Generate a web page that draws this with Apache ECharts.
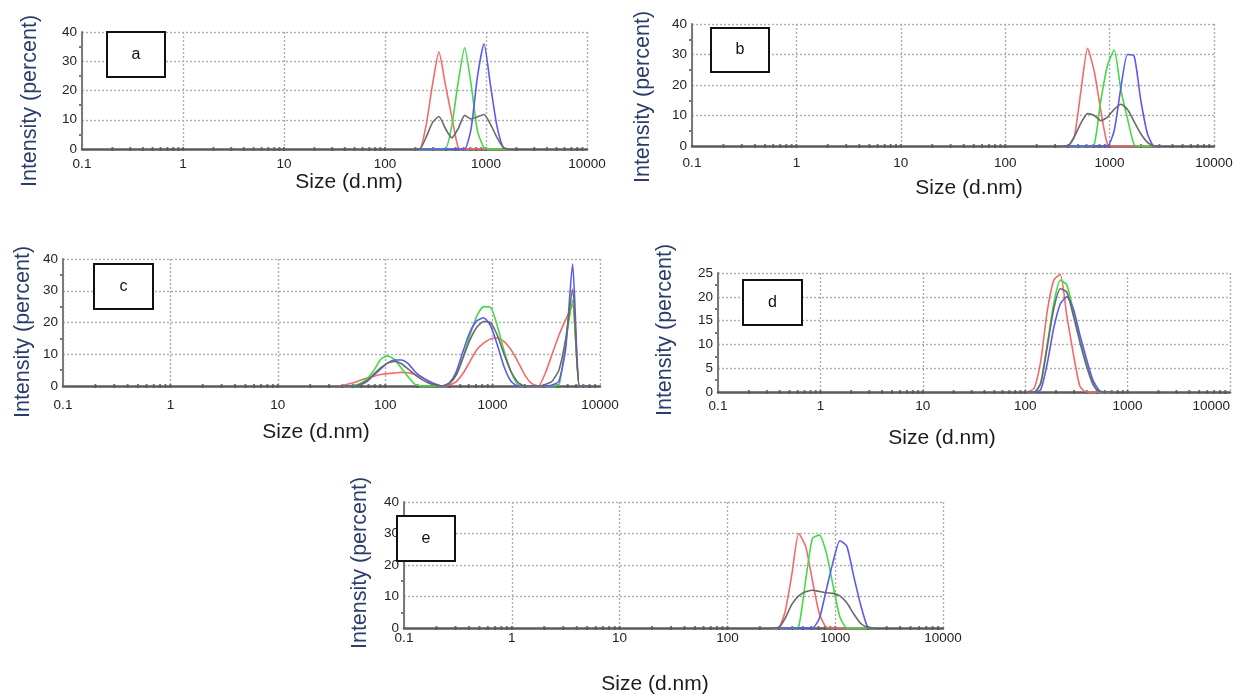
<!DOCTYPE html>
<html>
<head>
<meta charset="utf-8">
<script src="https://cdn.jsdelivr.net/npm/echarts@6/dist/echarts.min.js"></script>
<style>
  html, body { margin: 0; padding: 0; background: #ffffff; }
  #chart { width: 1239px; height: 694px; }
</style>
</head>
<body>
<div id="chart"></div>
<script>
// Size distributions by intensity: size bins (d.nm) and intensity (%) per run.

// Panel a
const binsA  = [190.1, 220.2, 255, 295.3, 342, 396.1, 458.7, 531.2, 615.1, 712.4, 825, 955.4, 1106, 1281, 1484, 1718];
const redA   = [0, 0, 8, 22, 33.2, 22, 11, 0.5, 0, 0, 0, 0, 0, 0, 0, 0];
const greenA = [0, 0, 0, 0, 0, 0, 8, 23, 34.6, 22, 6, 0.5, 0, 0, 0, 0];
const blueA  = [0, 0, 0, 0, 0, 0, 0, 0, 0, 7, 25, 36, 22, 8, 0.5, 0];
const grayA  = [0, 0, 4, 9, 11.1, 7, 3.8, 7, 11.5, 10.3, 11, 11.8, 8.5, 4, 0.5, 0];

// Panel b
const binsB  = [342, 396.1, 458.7, 531.2, 615.1, 712.4, 825, 955.4, 1106, 1281, 1484, 1718, 1990, 2305, 2669, 3091];
const redB   = [0, 0, 3, 18, 32, 24.5, 11.5, 0.5, 0, 0, 0, 0, 0, 0, 0, 0];
const greenB = [0, 0, 0, 0, 0, 0.5, 15, 26.5, 31.5, 18.5, 9, 0.5, 0, 0, 0, 0];
const blueB  = [0, 0, 0, 0, 0, 0, 0, 0, 5, 19, 30, 29.5, 15, 4, 0, 0];
const grayB  = [0, 0, 3, 7.5, 10.6, 10, 8.3, 9.5, 12, 13.7, 12, 8, 4, 1.2, 0, 0];

// Panel c
const binsC  = [37.84, 43.82, 50.75, 58.77, 68.06, 78.82, 91.28, 105.7, 122.4, 141.8, 164.2, 190.1, 220.2, 255, 295.3, 342,
                396.1, 458.7, 531.2, 615.1, 712.4, 825, 955.4, 1106, 1281, 1484, 1718, 1990, 2305, 2669, 3091, 3580,
                4145, 4801, 5560, 6439, 7456];
const redC   = [0, 0.5, 1, 1.8, 2.5, 3.1, 3.6, 3.9, 4.1, 4.3, 4.2, 3.6, 2.7, 1.6, 0.6, 0,
                0.3, 1.4, 4, 7.7, 11.4, 13.5, 14.8, 15.1, 14, 11.4, 7.7, 3.5, 0.8, 0, 4, 10,
                16, 21, 25.5, 0, 0];
const greenC = [0, 0, 0.2, 0.8, 2.4, 5, 8.5, 9.5, 8.3, 5.6, 2.8, 0.5, 0, 0, 0, 0,
                0.8, 3.5, 9, 16, 22, 25, 24.8, 19, 11, 4.5, 0.5, 0, 0, 0, 0, 0,
                0.3, 14, 27, 0, 0];
const blueC  = [0, 0, 0, 0.5, 1.5, 3.5, 5.5, 7.3, 8.2, 8.2, 7, 4.5, 2.8, 1.4, 0.5, 0,
                1, 4.5, 11, 17, 20.5, 21.5, 19, 13, 6, 1.5, 0, 0, 0, 0, 0, 0.3,
                1.5, 12, 38.5, 0, 0];
const grayC  = [0, 0, 0, 0.5, 1.8, 3.8, 5.8, 7.2, 7.7, 7, 5.3, 3.5, 2, 0.9, 0.3, 0,
                0.8, 3.5, 9, 14.5, 18.5, 20.3, 20, 16, 10, 4.5, 1.2, 0, 0, 0, 0.5, 1.5,
                5, 15, 30.5, 0, 0];

// Panel d
const binsD  = [105.7, 122.4, 141.8, 164.2, 190.1, 220.2, 255, 295.3, 342, 396.1, 458.7, 531.2, 615.1, 712.4];
const redD   = [0, 0.8, 6.5, 17, 23.5, 24.7, 16, 8, 1.2, 0, 0, 0, 0, 0];
const greenD = [0, 0, 2, 10, 18.6, 23.5, 22.5, 17, 11, 6, 1.8, 0, 0, 0];
const blueD  = [0, 0, 0.5, 6, 13.5, 18.5, 20, 17.5, 12, 7, 2.5, 0.3, 0, 0];
const grayD  = [0, 0, 1.8, 9.5, 17.5, 21.7, 21, 16, 10.5, 5.5, 1.6, 0, 0, 0];

// Panel e
const binsE  = [255, 295.3, 342, 396.1, 458.7, 531.2, 615.1, 712.4, 825, 955.4, 1106, 1281, 1484, 1718, 1990, 2305];
const redE   = [0, 0, 5, 17, 30, 26, 15, 4.5, 0.3, 0, 0, 0, 0, 0, 0, 0];
const greenE = [0, 0, 0, 0, 0.5, 15, 28.5, 29.5, 24, 13.5, 3.5, 0, 0, 0, 0, 0];
const blueE  = [0, 0, 0, 0, 0, 0, 0, 3, 12, 21, 27.7, 26, 16.5, 7.5, 0.5, 0];
const grayE  = [0, 0, 3, 7.5, 10.2, 11.5, 12, 11.6, 11.2, 11, 10.2, 8, 4.5, 1.5, 0.2, 0];

// Axis text
const xTickLabels = ['0.1', '1', '10', '100', '1000', '10000'];
const minorTickSizes = [0.2, 0.3, 0.4, 0.5, 0.6, 0.7, 0.8, 0.9, 1, 2, 3, 4, 5, 6, 7, 8, 9, 10,
                        20, 30, 40, 50, 60, 70, 80, 90, 100, 200, 300, 400, 500, 600, 700, 800, 900, 1000,
                        2000, 3000, 4000, 5000, 6000, 7000, 8000, 9000];
const xTitle = 'Size (d.nm)';
const yTitle = 'Intensity (percent)';

const FONT = "'Liberation Sans', Arial, sans-serif";
const lineColors = ['#f46a6a', '#46d946', '#5a5af2', '#6a6a6a'];

// Layout of the five panels
const panels = [
  { letter: 'a', grid: { left: 82, top: 32, width: 505, height: 117 }, yMax: 40, yStep: 10,
    bins: binsA, runs: [redA, greenA, blueA, grayA], xMargin: 8, alignMax: 'center',
    box: [107, 32, 58, 45], yTitlePos: [30, 101], xTitlePos: [349, 182] },
  { letter: 'b', grid: { left: 692, top: 24, width: 522, height: 122 }, yMax: 40, yStep: 10,
    bins: binsB, runs: [redB, greenB, blueB, grayB], xMargin: 10, alignMax: 'center',
    box: [711, 28, 58, 44], yTitlePos: [643, 97], xTitlePos: [969, 188] },
  { letter: 'c', grid: { left: 63, top: 259, width: 537, height: 127 }, yMax: 40, yStep: 10,
    bins: binsC, runs: [redC, greenC, blueC, grayC], xMargin: 12, alignMax: 'center',
    box: [94, 264, 59, 45], yTitlePos: [23, 332], xTitlePos: [316, 432] },
  { letter: 'd', grid: { left: 718, top: 273, width: 512, height: 119 }, yMax: 25, yStep: 5,
    bins: binsD, runs: [redD, greenD, blueD, grayD], xMargin: 7, alignMax: 'right',
    box: [743, 280, 59, 45], yTitlePos: [665, 330], xTitlePos: [942, 438] },
  { letter: 'e', grid: { left: 404, top: 502, width: 539, height: 126 }, yMax: 40, yStep: 10,
    bins: binsE, runs: [redE, greenE, blueE, grayE], xMargin: 3, alignMax: 'center',
    box: [397, 516, 58, 45], yTitlePos: [360, 563], xTitlePos: [655, 684] }
];

const gridLine = { show: true, lineStyle: { color: '#adadad', type: [2, 2], width: 1.4 } };

const grids = [], xAxes = [], yAxes = [], series = [], graphics = [];

panels.forEach((p, i) => {
  grids.push(Object.assign({ containLabel: false }, p.grid));

  xAxes.push({
    type: 'log', logBase: 10, gridIndex: i, min: 0.1, max: 10000, splitNumber: 5,
    axisLine: { show: true, onZero: false, lineStyle: { color: '#5c5c5c', width: 2.5 } },
    axisTick: { show: false },
    axisLabel: {
      margin: p.xMargin, fontSize: 13.5, color: '#222', fontFamily: FONT,
      alignMaxLabel: p.alignMax,
      formatter: v => xTickLabels[Math.round(Math.log10(v)) + 1]
    },
    splitLine: gridLine
  });

  yAxes.push({
    type: 'value', gridIndex: i, min: 0, max: p.yMax, interval: p.yStep,
    axisLine: { show: true, lineStyle: { color: '#7a7a7a', width: 2 } },
    axisTick: { show: false },
    minorTick: { show: true, splitNumber: 2, length: 3, lineStyle: { color: '#777', width: 2 } },
    axisLabel: { margin: 5, fontSize: 13.5, color: '#222', fontFamily: FONT },
    splitLine: gridLine
  });

  // small marks along the size axis at 2..9 of each decade
  series.push({
    type: 'scatter', xAxisIndex: i, yAxisIndex: i, silent: true, clip: false, z: 2,
    symbol: 'rect', symbolSize: [2, 4], itemStyle: { color: '#555' },
    data: minorTickSizes.map(v => [v, 0])
  });

  p.runs.forEach((vals, k) => {
    series.push({
      type: 'line', xAxisIndex: i, yAxisIndex: i, silent: true, clip: false, z: 3 + k,
      symbol: 'none', smooth: 0.2,
      lineStyle: { color: lineColors[k], width: 1.6 },
      itemStyle: { color: lineColors[k] },
      data: p.bins.map((s, j) => [s, vals[j]])
    });
  });

  // panel letter box
  const [bx, by, bw, bh] = p.box;
  graphics.push({
    type: 'rect', z: 100, shape: { x: bx, y: by, width: bw, height: bh },
    style: { fill: '#fff', stroke: '#111', lineWidth: 2 }
  });
  graphics.push({
    type: 'text', z: 101, x: bx + bw / 2, y: by + bh / 2,
    style: { text: p.letter, font: '16px ' + FONT, fill: '#111',
             align: 'center', verticalAlign: 'middle', textAlign: 'center', textVerticalAlign: 'middle' }
  });
  // axis titles
  graphics.push({
    type: 'text', z: 50, x: p.yTitlePos[0], y: p.yTitlePos[1], rotation: Math.PI / 2,
    style: { text: yTitle, font: '21.5px ' + FONT, fill: '#2a3c6a',
             align: 'center', verticalAlign: 'middle', textAlign: 'center', textVerticalAlign: 'middle' }
  });
  graphics.push({
    type: 'text', z: 50, x: p.xTitlePos[0], y: p.xTitlePos[1],
    style: { text: xTitle, font: '21px ' + FONT, fill: '#1c1c1c',
             align: 'center', verticalAlign: 'middle', textAlign: 'center', textVerticalAlign: 'middle' }
  });
});

const chart = echarts.init(document.getElementById('chart'), null, { renderer: 'canvas' });
chart.setOption({
  backgroundColor: '#ffffff',
  animation: false,
  grid: grids,
  xAxis: xAxes,
  yAxis: yAxes,
  series: series,
  graphic: graphics
});
</script>
</body>
</html>
